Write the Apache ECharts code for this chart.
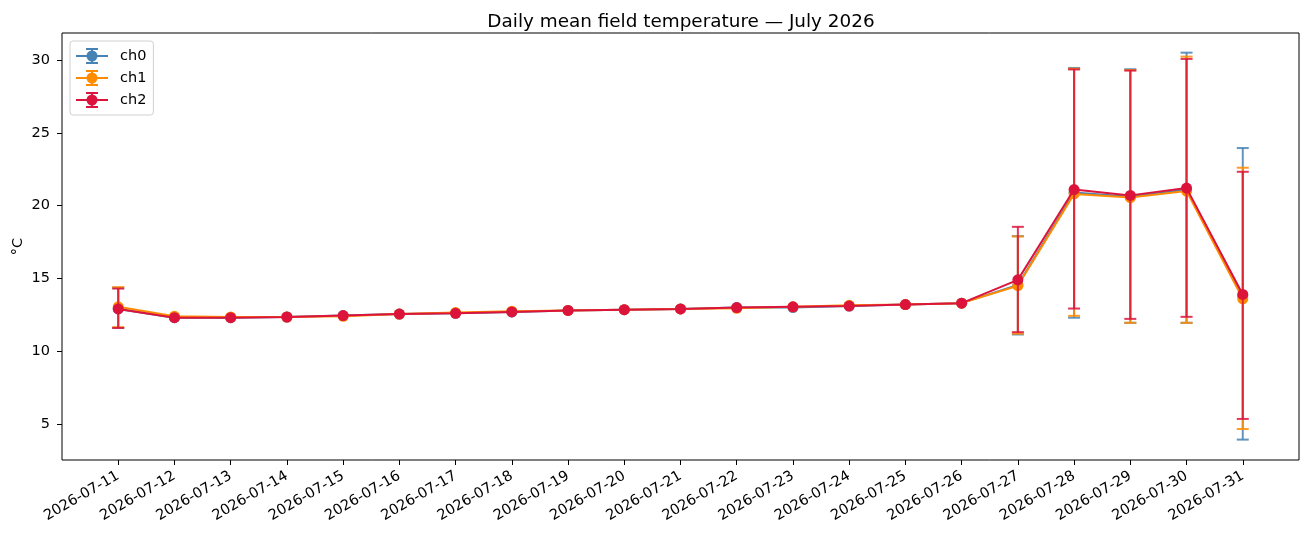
<!DOCTYPE html>
<html>
<head>
<meta charset="utf-8">
<script src="https://cdn.jsdelivr.net/npm/echarts@6/dist/echarts.min.js"></script>
<style>html,body{margin:0;padding:0;background:#fff}#c{width:1308px;height:538px}</style>
</head>
<body>
<div id="c"></div>
<script>
const dates = ['2026-07-11','2026-07-12','2026-07-13','2026-07-14','2026-07-15','2026-07-16','2026-07-17','2026-07-18','2026-07-19','2026-07-20','2026-07-21','2026-07-22','2026-07-23','2026-07-24','2026-07-25','2026-07-26','2026-07-27','2026-07-28','2026-07-29','2026-07-30','2026-07-31'];
const yTicks = [5, 10, 15, 20, 25, 30];

const ch0Mean = [12.9, 12.3, 12.3, 12.35, 12.45, 12.55, 12.6, 12.7, 12.8, 12.85, 12.9, 13.0, 13.0, 13.1, 13.2, 13.3, 14.55, 20.9, 20.6, 21.1, 13.8];
const ch1Mean = [13.05, 12.4, 12.35, 12.35, 12.4, 12.55, 12.65, 12.75, 12.8, 12.85, 12.9, 12.95, 13.05, 13.15, 13.2, 13.3, 14.5, 20.8, 20.55, 21.0, 13.6];
const ch2Mean = [12.9, 12.3, 12.3, 12.35, 12.45, 12.55, 12.6, 12.7, 12.8, 12.85, 12.9, 13.0, 13.05, 13.1, 13.2, 13.3, 14.9, 21.1, 20.7, 21.2, 13.9];

const N = null;
const ch0Low  = [11.6, N,N,N,N,N,N,N,N,N,N,N,N,N,N,N, 11.15, 12.3, 11.95, 11.95, 3.93];
const ch0High = [14.35,N,N,N,N,N,N,N,N,N,N,N,N,N,N,N, 17.9, 29.45, 29.36, 30.5, 23.95];
const ch1Low  = [11.65,N,N,N,N,N,N,N,N,N,N,N,N,N,N,N, 11.2, 12.43, 11.95, 11.95, 4.66];
const ch1High = [14.4, N,N,N,N,N,N,N,N,N,N,N,N,N,N,N, 17.88, 29.4, 29.3, 30.23, 22.6];
const ch2Low  = [11.6, N,N,N,N,N,N,N,N,N,N,N,N,N,N,N, 11.31, 12.93, 12.22, 12.36, 5.35];
const ch2High = [14.3, N,N,N,N,N,N,N,N,N,N,N,N,N,N,N, 18.54, 29.35, 29.27, 30.07, 22.32];

const channels = [
  {name: 'ch0', color: '#4682b4', mean: ch0Mean, low: ch0Low, high: ch0High},
  {name: 'ch1', color: '#ff8c00', mean: ch1Mean, low: ch1Low, high: ch1High},
  {name: 'ch2', color: '#dc143c', mean: ch2Mean, low: ch2Low, high: ch2High}
];

const ICON = 'path://M0 7H32V9H0Z M15 1H17V15H15Z M10 0H22V2H10Z M10 14H22V16H10Z M10.5 8A5.5 5.5 0 1 1 21.5 8A5.5 5.5 0 1 1 10.5 8Z';

const series = [];
channels.forEach((ch, k) => {
  const errData = [];
  ch.low.forEach((lo, i) => { if (lo != null && ch.high[i] != null) errData.push([i, lo, ch.high[i]]); });
  series.push({
    type: 'custom',
    name: ch.name + '_err',
    z: 2 + k * 2,
    silent: true,
    data: errData,
    encode: {x: 0, y: [1, 2]},
    renderItem: function (params, api) {
      const x = api.value(0);
      const p1 = api.coord([x, api.value(1)]);
      const p2 = api.coord([x, api.value(2)]);
      const hw = 6;
      const st = {stroke: ch.color, lineWidth: 2, opacity: 0.85};
      return {
        type: 'group',
        children: [
          {type: 'line', shape: {x1: p1[0], y1: p1[1], x2: p2[0], y2: p2[1]}, style: st},
          {type: 'line', shape: {x1: p1[0] - hw, y1: p1[1], x2: p1[0] + hw, y2: p1[1]}, style: st},
          {type: 'line', shape: {x1: p2[0] - hw, y1: p2[1], x2: p2[0] + hw, y2: p2[1]}, style: st}
        ]
      };
    }
  });
  series.push({
    type: 'line',
    name: ch.name,
    z: 3 + k * 2,
    data: ch.mean.map((v, i) => [i, v]),
    symbol: 'circle',
    symbolSize: 11,
    showSymbol: true,
    animation: false,
    lineStyle: {color: ch.color, width: 2},
    itemStyle: {color: ch.color},
    emphasis: {disabled: true}
  });
});

const chart = echarts.init(document.getElementById('c'), null, {renderer: 'canvas'});
chart.setOption({
  animation: false,
  backgroundColor: '#fff',
  title: {
    text: 'Daily mean field temperature — July 2026',
    left: 676, top: 8, textAlign: 'center',
    textStyle: {fontFamily: 'DejaVu Sans', fontSize: 18.4, fontWeight: 'normal', color: '#000'}
  },
  legend: {
    orient: 'vertical',
    left: 70, top: 41,
    data: channels.map(c => ({name: c.name, icon: ICON})),
    itemWidth: 32, itemHeight: 16, itemGap: 6,
    padding: [7, 7, 7, 6],
    backgroundColor: '#fff',
    borderColor: '#d0d0d0', borderWidth: 1, borderRadius: 3,
    textStyle: {fontFamily: 'DejaVu Sans', fontSize: 14.5, color: '#000', padding: [0, 0, 0, 7]}
  },
  grid: {
    left: 62, right: 9, top: 33, bottom: 78,
    containLabel: false, outerBoundsMode: 'none',
    show: true, borderColor: '#000', borderWidth: 1, backgroundColor: 'transparent'
  },
  xAxis: {
    type: 'value',
    min: -1, max: 21,
    axisLine: {show: false, onZero: false},
    splitLine: {show: false},
    axisTick: {show: true, length: 5, lineStyle: {color: '#000'}, customValues: dates.map((d, i) => i)},
    axisLabel: {
      rotate: 30, margin: 15,
      customValues: dates.map((d, i) => i),
      formatter: v => dates[Math.round(v)] || '',
      fontFamily: 'DejaVu Sans', fontSize: 14.5, color: '#000'
    }
  },
  yAxis: {
    type: 'value',
    min: 2.53, max: 31.85,
    name: '°C', nameLocation: 'middle', nameGap: 36, nameMoveOverlap: false,
    nameTextStyle: {fontFamily: 'DejaVu Sans', fontSize: 14.5, color: '#000'},
    axisLine: {show: false, onZero: false},
    splitLine: {show: false},
    axisTick: {show: true, length: 5, lineStyle: {color: '#000'}, customValues: yTicks},
    axisLabel: {customValues: yTicks, margin: 12, fontFamily: 'DejaVu Sans', fontSize: 14.5, color: '#000'}
  },
  series: series
});
</script>
</body>
</html>
